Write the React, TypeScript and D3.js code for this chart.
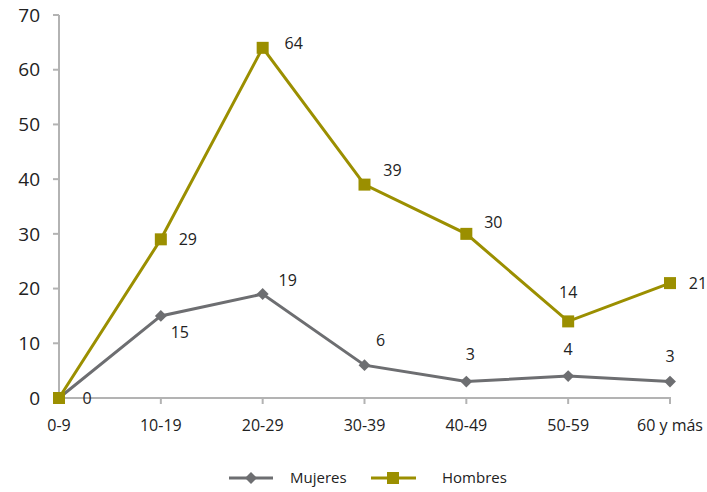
import React from "react";
import * as d3 from "d3";

const categories = ["0-9", "10-19", "20-29", "30-39", "40-49", "50-59", "60 y más"];
const mujeres = [0, 15, 19, 6, 3, 4, 3];
const hombres = [0, 29, 64, 39, 30, 14, 21];
const yTicks = [0, 10, 20, 30, 40, 50, 60, 70];

const GRAY = "#6d6e71";
const OLIVE = "#9b8f00";
const AXIS = "#b3b3b3";
const FONT = "'Open Sans', sans-serif";

// label offsets [dx, dy] relative to point
const hombresOff: [number, number][] = [[28, 0], [27, 0], [31, -4], [28, -14], [27, -11], [0, -29], [28, 0]];
const mujeresOff: [number, number][] = [[0, 0], [19, 16], [25, -14], [16, -25], [4, -27], [0, -27], [0, -25]];

export default function App() {
  const x = d3.scalePoint<string>().domain(categories).range([59, 670]);
  const y = d3.scaleLinear().domain([0, 70]).range([398, 15]);
  const line = d3.line<number>().x((_, i) => x(categories[i])!).y((d) => y(d));
  const diamond = d3.symbol().type(d3.symbolDiamond2).size(90)()!;

  return (
    <svg width={707} height={492} style={{ display: "block", position: "absolute", left: 0, top: 0 }}>
      <rect width={707} height={492} fill="#fff" />
      {/* y axis */}
      <line x1={59} x2={59} y1={y(70)} y2={y(0)} stroke={AXIS} strokeWidth={2} />
      {yTicks.map((t) => (
        <g key={t}>
          <line x1={53} x2={59} y1={y(t)} y2={y(t)} stroke={AXIS} strokeWidth={2} />
          <text x={40} y={y(t)} dy="0.35em" textAnchor="end" fontSize={19} fontFamily={FONT} fill="#222">
            {t}
          </text>
        </g>
      ))}
      {/* x axis */}
      <line x1={58} x2={671} y1={y(0)} y2={y(0)} stroke={AXIS} strokeWidth={2} />
      {categories.map((c) => (
        <g key={c}>
          <line x1={x(c)} x2={x(c)} y1={y(0)} y2={y(0) + 6} stroke={AXIS} strokeWidth={2} />
          <text x={x(c)} y={431} textAnchor="middle" fontSize={16} fontFamily={FONT} fill="#222">
            {c}
          </text>
        </g>
      ))}
      {/* Mujeres */}
      <path d={line(mujeres)!} fill="none" stroke={GRAY} strokeWidth={3} />
      {mujeres.map((v, i) => (
        <path key={i} d={diamond} transform={`translate(${x(categories[i])},${y(v)})`} fill={GRAY} />
      ))}
      {/* Hombres */}
      <path d={line(hombres)!} fill="none" stroke={OLIVE} strokeWidth={3} />
      {hombres.map((v, i) => (
        <rect key={i} x={x(categories[i])! - 6} y={y(v) - 6} width={12} height={12} fill={OLIVE} />
      ))}
      {/* labels */}
      {hombres.map((v, i) => (
        <text key={"h" + i} x={x(categories[i])! + hombresOff[i][0]} y={y(v) + hombresOff[i][1]} dy="0.35em"
          textAnchor="middle" fontSize={16} fontFamily={FONT} fill="#222">{v}</text>
      ))}
      {mujeres.map((v, i) => i === 0 ? null : (
        <text key={"m" + i} x={x(categories[i])! + mujeresOff[i][0]} y={y(v) + mujeresOff[i][1]} dy="0.35em"
          textAnchor="middle" fontSize={16} fontFamily={FONT} fill="#222">{v}</text>
      ))}
      {/* legend */}
      <line x1={229} x2={273} y1={478} y2={478} stroke={GRAY} strokeWidth={3} />
      <path d={diamond} transform="translate(251,478)" fill={GRAY} />
      <text x={290} y={478} dy="0.35em" fontSize={15} fontFamily={FONT} fill="#222">Mujeres</text>
      <line x1={371} x2={416} y1={478} y2={478} stroke={OLIVE} strokeWidth={3} />
      <rect x={387} y={472} width={12} height={12} fill={OLIVE} />
      <text x={442} y={478} dy="0.35em" fontSize={15} fontFamily={FONT} fill="#222">Hombres</text>
    </svg>
  );
}
